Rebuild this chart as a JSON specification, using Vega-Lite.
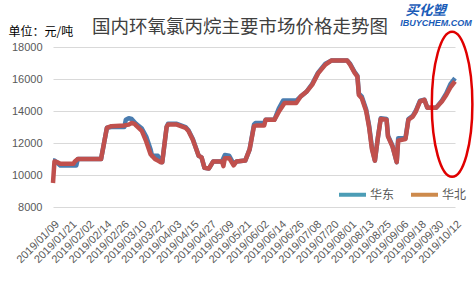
{
  "$schema": "https://vega.github.io/schema/vega-lite/v6.json",
  "width": 402,
  "height": 160,
  "autosize": {"type": "none"},
  "padding": {"left": 53, "top": 47, "right": 21, "bottom": 74},
  "background": "#ffffff",
  "config": {"view": {"stroke": null}, "font": "Liberation Sans"},
  "title": {"text": "国内环氧氯丙烷主要市场价格走势图", "font": "Noto Sans CJK SC", "fontSize": 18.5, "fontWeight": "normal", "color": "#404040", "anchor": "middle", "dx": -14, "dy": 53, "baseline": "middle", "offset": 12},
  "datasets": {
    "price": [
      {"date": "2019-01-09", "region": "华东", "price": 10900},
      {"date": "2019-01-10", "region": "华东", "price": 10900},
      {"date": "2019-01-12", "region": "华东", "price": 10750},
      {"date": "2019-01-14", "region": "华东", "price": 10600},
      {"date": "2019-01-25", "region": "华东", "price": 10600},
      {"date": "2019-01-26", "region": "华东", "price": 11000},
      {"date": "2019-02-11", "region": "华东", "price": 11000},
      {"date": "2019-02-15", "region": "华东", "price": 12950},
      {"date": "2019-02-18", "region": "华东", "price": 13000},
      {"date": "2019-02-27", "region": "华东", "price": 13000},
      {"date": "2019-02-28", "region": "华东", "price": 13450},
      {"date": "2019-03-02", "region": "华东", "price": 13550},
      {"date": "2019-03-04", "region": "华东", "price": 13500},
      {"date": "2019-03-06", "region": "华东", "price": 13300},
      {"date": "2019-03-07", "region": "华东", "price": 13200},
      {"date": "2019-03-11", "region": "华东", "price": 12900},
      {"date": "2019-03-14", "region": "华东", "price": 12400},
      {"date": "2019-03-17", "region": "华东", "price": 11600},
      {"date": "2019-03-18", "region": "华东", "price": 11200},
      {"date": "2019-03-22", "region": "华东", "price": 11200},
      {"date": "2019-03-24", "region": "华东", "price": 10900},
      {"date": "2019-03-25", "region": "华东", "price": 10800},
      {"date": "2019-03-28", "region": "华东", "price": 13000},
      {"date": "2019-03-29", "region": "华东", "price": 13200},
      {"date": "2019-04-04", "region": "华东", "price": 13200},
      {"date": "2019-04-10", "region": "华东", "price": 13000},
      {"date": "2019-04-12", "region": "华东", "price": 12800},
      {"date": "2019-04-15", "region": "华东", "price": 12250},
      {"date": "2019-04-19", "region": "华东", "price": 11200},
      {"date": "2019-04-21", "region": "华东", "price": 11100},
      {"date": "2019-04-23", "region": "华东", "price": 10450},
      {"date": "2019-04-26", "region": "华东", "price": 10400},
      {"date": "2019-04-29", "region": "华东", "price": 10850},
      {"date": "2019-05-05", "region": "华东", "price": 10850},
      {"date": "2019-05-07", "region": "华东", "price": 11250},
      {"date": "2019-05-10", "region": "华东", "price": 11200},
      {"date": "2019-05-13", "region": "华东", "price": 10700},
      {"date": "2019-05-15", "region": "华东", "price": 10850},
      {"date": "2019-05-21", "region": "华东", "price": 10900},
      {"date": "2019-05-24", "region": "华东", "price": 11600},
      {"date": "2019-05-27", "region": "华东", "price": 13150},
      {"date": "2019-05-28", "region": "华东", "price": 13250},
      {"date": "2019-06-03", "region": "华东", "price": 13250},
      {"date": "2019-06-04", "region": "华东", "price": 13450},
      {"date": "2019-06-10", "region": "华东", "price": 13450},
      {"date": "2019-06-13", "region": "华东", "price": 14150},
      {"date": "2019-06-16", "region": "华东", "price": 14650},
      {"date": "2019-06-25", "region": "华东", "price": 14650},
      {"date": "2019-06-28", "region": "华东", "price": 14900},
      {"date": "2019-07-02", "region": "华东", "price": 15200},
      {"date": "2019-07-06", "region": "华东", "price": 15700},
      {"date": "2019-07-10", "region": "华东", "price": 16400},
      {"date": "2019-07-15", "region": "华东", "price": 16950},
      {"date": "2019-07-19", "region": "华东", "price": 17150},
      {"date": "2019-07-30", "region": "华东", "price": 17150},
      {"date": "2019-08-01", "region": "华东", "price": 16950},
      {"date": "2019-08-04", "region": "华东", "price": 16450},
      {"date": "2019-08-06", "region": "华东", "price": 16200},
      {"date": "2019-08-07", "region": "华东", "price": 15100},
      {"date": "2019-08-09", "region": "华东", "price": 14900},
      {"date": "2019-08-12", "region": "华东", "price": 14100},
      {"date": "2019-08-14", "region": "华东", "price": 13100},
      {"date": "2019-08-16", "region": "华东", "price": 11700},
      {"date": "2019-08-18", "region": "华东", "price": 10900},
      {"date": "2019-08-20", "region": "华东", "price": 12300},
      {"date": "2019-08-22", "region": "华东", "price": 13550},
      {"date": "2019-08-26", "region": "华东", "price": 13500},
      {"date": "2019-08-27", "region": "华东", "price": 12450},
      {"date": "2019-08-30", "region": "华东", "price": 11850},
      {"date": "2019-09-02", "region": "华东", "price": 10800},
      {"date": "2019-09-03", "region": "华东", "price": 12300},
      {"date": "2019-09-08", "region": "华东", "price": 12300},
      {"date": "2019-09-10", "region": "华东", "price": 13500},
      {"date": "2019-09-13", "region": "华东", "price": 13700},
      {"date": "2019-09-15", "region": "华东", "price": 14000},
      {"date": "2019-09-18", "region": "华东", "price": 14650},
      {"date": "2019-09-21", "region": "华东", "price": 14700},
      {"date": "2019-09-23", "region": "华东", "price": 14200},
      {"date": "2019-09-29", "region": "华东", "price": 14200},
      {"date": "2019-10-03", "region": "华东", "price": 14650},
      {"date": "2019-10-06", "region": "华东", "price": 15100},
      {"date": "2019-10-09", "region": "华东", "price": 15700},
      {"date": "2019-10-12", "region": "华东", "price": 16050},
      {"date": "2019-01-09", "region": "华北", "price": 9500},
      {"date": "2019-01-10", "region": "华北", "price": 10850},
      {"date": "2019-01-12", "region": "华北", "price": 10800},
      {"date": "2019-01-14", "region": "华北", "price": 10700},
      {"date": "2019-01-23", "region": "华北", "price": 10700},
      {"date": "2019-01-24", "region": "华北", "price": 10850},
      {"date": "2019-01-26", "region": "华北", "price": 11000},
      {"date": "2019-02-11", "region": "华北", "price": 11000},
      {"date": "2019-02-15", "region": "华北", "price": 12950},
      {"date": "2019-02-18", "region": "华北", "price": 13050},
      {"date": "2019-02-27", "region": "华北", "price": 13100},
      {"date": "2019-03-02", "region": "华北", "price": 13150},
      {"date": "2019-03-04", "region": "华北", "price": 13250},
      {"date": "2019-03-06", "region": "华北", "price": 13200},
      {"date": "2019-03-07", "region": "华北", "price": 13100},
      {"date": "2019-03-11", "region": "华北", "price": 12750},
      {"date": "2019-03-14", "region": "华北", "price": 12100},
      {"date": "2019-03-17", "region": "华北", "price": 11300},
      {"date": "2019-03-20", "region": "华北", "price": 11000},
      {"date": "2019-03-22", "region": "华北", "price": 10900},
      {"date": "2019-03-24", "region": "华北", "price": 10800},
      {"date": "2019-03-25", "region": "华北", "price": 10800},
      {"date": "2019-03-28", "region": "华北", "price": 13000},
      {"date": "2019-03-29", "region": "华北", "price": 13150},
      {"date": "2019-04-04", "region": "华北", "price": 13150},
      {"date": "2019-04-10", "region": "华北", "price": 12950},
      {"date": "2019-04-12", "region": "华北", "price": 12750},
      {"date": "2019-04-15", "region": "华北", "price": 12200},
      {"date": "2019-04-19", "region": "华北", "price": 11200},
      {"date": "2019-04-21", "region": "华北", "price": 11100},
      {"date": "2019-04-23", "region": "华北", "price": 10450},
      {"date": "2019-04-26", "region": "华北", "price": 10400},
      {"date": "2019-04-29", "region": "华北", "price": 10850},
      {"date": "2019-05-05", "region": "华北", "price": 10850},
      {"date": "2019-05-06", "region": "华北", "price": 10550},
      {"date": "2019-05-07", "region": "华北", "price": 11050},
      {"date": "2019-05-10", "region": "华北", "price": 11050},
      {"date": "2019-05-13", "region": "华北", "price": 10600},
      {"date": "2019-05-15", "region": "华北", "price": 10850},
      {"date": "2019-05-21", "region": "华北", "price": 10900},
      {"date": "2019-05-24", "region": "华北", "price": 11600},
      {"date": "2019-05-27", "region": "华北", "price": 13050},
      {"date": "2019-05-29", "region": "华北", "price": 13100},
      {"date": "2019-06-03", "region": "华北", "price": 13100},
      {"date": "2019-06-04", "region": "华北", "price": 13450},
      {"date": "2019-06-10", "region": "华北", "price": 13450},
      {"date": "2019-06-13", "region": "华北", "price": 13950},
      {"date": "2019-06-17", "region": "华北", "price": 14500},
      {"date": "2019-06-25", "region": "华北", "price": 14500},
      {"date": "2019-06-28", "region": "华北", "price": 14900},
      {"date": "2019-07-02", "region": "华北", "price": 15200},
      {"date": "2019-07-06", "region": "华北", "price": 15650},
      {"date": "2019-07-10", "region": "华北", "price": 16350},
      {"date": "2019-07-15", "region": "华北", "price": 16900},
      {"date": "2019-07-19", "region": "华北", "price": 17150},
      {"date": "2019-07-30", "region": "华北", "price": 17150},
      {"date": "2019-08-01", "region": "华北", "price": 16900},
      {"date": "2019-08-04", "region": "华北", "price": 16400},
      {"date": "2019-08-06", "region": "华北", "price": 16150},
      {"date": "2019-08-07", "region": "华北", "price": 15000},
      {"date": "2019-08-09", "region": "华北", "price": 14800},
      {"date": "2019-08-12", "region": "华北", "price": 14000},
      {"date": "2019-08-14", "region": "华北", "price": 13000},
      {"date": "2019-08-16", "region": "华北", "price": 11600},
      {"date": "2019-08-18", "region": "华北", "price": 10900},
      {"date": "2019-08-20", "region": "华北", "price": 12300},
      {"date": "2019-08-22", "region": "华北", "price": 13500},
      {"date": "2019-08-26", "region": "华北", "price": 13450},
      {"date": "2019-08-27", "region": "华北", "price": 12400},
      {"date": "2019-08-30", "region": "华北", "price": 11800},
      {"date": "2019-09-02", "region": "华北", "price": 10800},
      {"date": "2019-09-03", "region": "华北", "price": 12150},
      {"date": "2019-09-08", "region": "华北", "price": 12250},
      {"date": "2019-09-10", "region": "华北", "price": 13450},
      {"date": "2019-09-13", "region": "华北", "price": 13650},
      {"date": "2019-09-15", "region": "华北", "price": 13950},
      {"date": "2019-09-18", "region": "华北", "price": 14600},
      {"date": "2019-09-21", "region": "华北", "price": 14700},
      {"date": "2019-09-23", "region": "华北", "price": 14200},
      {"date": "2019-09-29", "region": "华北", "price": 14200},
      {"date": "2019-10-03", "region": "华北", "price": 14600},
      {"date": "2019-10-06", "region": "华北", "price": 15000},
      {"date": "2019-10-09", "region": "华北", "price": 15500},
      {"date": "2019-10-12", "region": "华北", "price": 15850}
    ],
    "marks": [
      {"kind": "ellipse", "date": "2019-10-10", "price": 14420, "label": ""},
      {"kind": "logo1", "date": "2019-09-22", "price": 20250, "label": "买化塑"},
      {"kind": "logo2", "date": "2019-09-29", "price": 19500, "label": "IBUYCHEM.COM"}
    ]
  },
  "encoding": {
    "x": {
      "field": "date", "type": "temporal",
      "scale": {"type": "utc", "domain": [{"year": 2019, "month": 1, "date": 9, "utc": true}, {"year": 2019, "month": 10, "date": 12, "utc": true}]},
      "axis": {
        "title": null, "domain": false, "ticks": false, "grid": false,
        "format": "%Y/%m/%d", "labelAngle": -45, "labelFontSize": 11, "labelColor": "#595959",
        "labelOverlap": false, "labelFlush": false, "labelBound": false, "labelPadding": 11,
        "values": [
          {"year": 2019, "month": 1, "date": 9, "utc": true},
          {"year": 2019, "month": 1, "date": 21, "utc": true},
          {"year": 2019, "month": 2, "date": 2, "utc": true},
          {"year": 2019, "month": 2, "date": 14, "utc": true},
          {"year": 2019, "month": 2, "date": 26, "utc": true},
          {"year": 2019, "month": 3, "date": 10, "utc": true},
          {"year": 2019, "month": 3, "date": 22, "utc": true},
          {"year": 2019, "month": 4, "date": 3, "utc": true},
          {"year": 2019, "month": 4, "date": 15, "utc": true},
          {"year": 2019, "month": 4, "date": 27, "utc": true},
          {"year": 2019, "month": 5, "date": 9, "utc": true},
          {"year": 2019, "month": 5, "date": 21, "utc": true},
          {"year": 2019, "month": 6, "date": 2, "utc": true},
          {"year": 2019, "month": 6, "date": 14, "utc": true},
          {"year": 2019, "month": 6, "date": 26, "utc": true},
          {"year": 2019, "month": 7, "date": 8, "utc": true},
          {"year": 2019, "month": 7, "date": 20, "utc": true},
          {"year": 2019, "month": 8, "date": 1, "utc": true},
          {"year": 2019, "month": 8, "date": 13, "utc": true},
          {"year": 2019, "month": 8, "date": 25, "utc": true},
          {"year": 2019, "month": 9, "date": 6, "utc": true},
          {"year": 2019, "month": 9, "date": 18, "utc": true},
          {"year": 2019, "month": 9, "date": 30, "utc": true},
          {"year": 2019, "month": 10, "date": 12, "utc": true}
        ]
      }
    },
    "y": {
      "field": "price", "type": "quantitative",
      "scale": {"domain": [8000, 18000], "nice": false, "zero": false},
      "axis": {
        "values": [8000, 10000, 12000, 14000, 16000, 18000], "format": "d",
        "domain": false, "ticks": false, "labelPadding": 11, "labelFontSize": 11, "labelColor": "#595959",
        "gridColor": "#d9d9d9", "gridWidth": 1,
        "title": "单位：元/吨", "titleAngle": 0, "titleAlign": "left", "titleBaseline": "middle",
        "titleX": -45, "titleY": -16, "titleFont": "Noto Sans CJK SC", "titleFontSize": 12, "titleFontWeight": "normal", "titleColor": "#000000"
      }
    }
  },
  "layer": [
    {
      "data": {"name": "price"},
      "transform": [{"filter": "datum.region === '华东'"}],
      "mark": {"type": "line", "strokeWidth": 4.5, "strokeJoin": "round", "strokeCap": "butt"},
      "encoding": {"stroke": {"field": "region", "type": "nominal", "scale": {"domain": ["华北", "华东"], "range": ["#c0504d", "#4b7db0"]}, "legend": null}}
    },
    {
      "data": {"name": "price"},
      "transform": [{"filter": "datum.region === '华北'"}],
      "mark": {"type": "line", "strokeWidth": 4.5, "strokeJoin": "round", "strokeCap": "butt"},
      "encoding": {"stroke": {"field": "region", "type": "nominal", "scale": {"domain": ["华北", "华东"], "range": ["#c0504d", "#4b7db0"]}, "legend": null}}
    },
    {
      "data": {"name": "price"},
      "transform": [{"filter": "false"}],
      "mark": {"type": "line", "strokeWidth": 4},
      "encoding": {
        "color": {"field": "region", "type": "nominal",
          "scale": {"domain": ["华东", "华北"], "range": ["#4c9db6", "#cd8a4c"]},
          "legend": {"title": null, "orient": "none", "legendX": 284, "legendY": 132, "direction": "horizontal",
            "symbolType": "stroke", "symbolSize": 729, "symbolStrokeWidth": 4, "labelFontSize": 12, "labelFont": "Noto Sans CJK SC",
            "labelColor": "#595959", "labelOffset": 2, "columnPadding": 8}
        }
      }
    },
    {
      "data": {"name": "marks"},
      "transform": [{"filter": "datum.kind === 'ellipse'"}],
      "mark": {"type": "point", "shape": "M0,-1A0.28,1,0,1,1,0,1A0.28,1,0,1,1,0,-1Z", "size": 21025, "filled": false, "stroke": "#e00000", "strokeWidth": 2.5, "opacity": 1}
    },
    {
      "data": {"name": "marks"},
      "transform": [{"filter": "datum.kind === 'logo1'"}],
      "mark": {"type": "text", "font": "Noto Sans CJK SC", "fontSize": 13.5, "fontWeight": "bold", "fontStyle": "italic", "fill": "#1a5cb8", "baseline": "middle", "align": "center"},
      "encoding": {"text": {"field": "label"}}
    },
    {
      "data": {"name": "marks"},
      "transform": [{"filter": "datum.kind === 'logo2'"}],
      "mark": {"type": "text", "font": "Liberation Sans", "fontSize": 9, "fontWeight": "bold", "fontStyle": "italic", "fill": "#1a5cb8", "baseline": "middle", "align": "center"},
      "encoding": {"text": {"field": "label"}}
    }
  ]
}
